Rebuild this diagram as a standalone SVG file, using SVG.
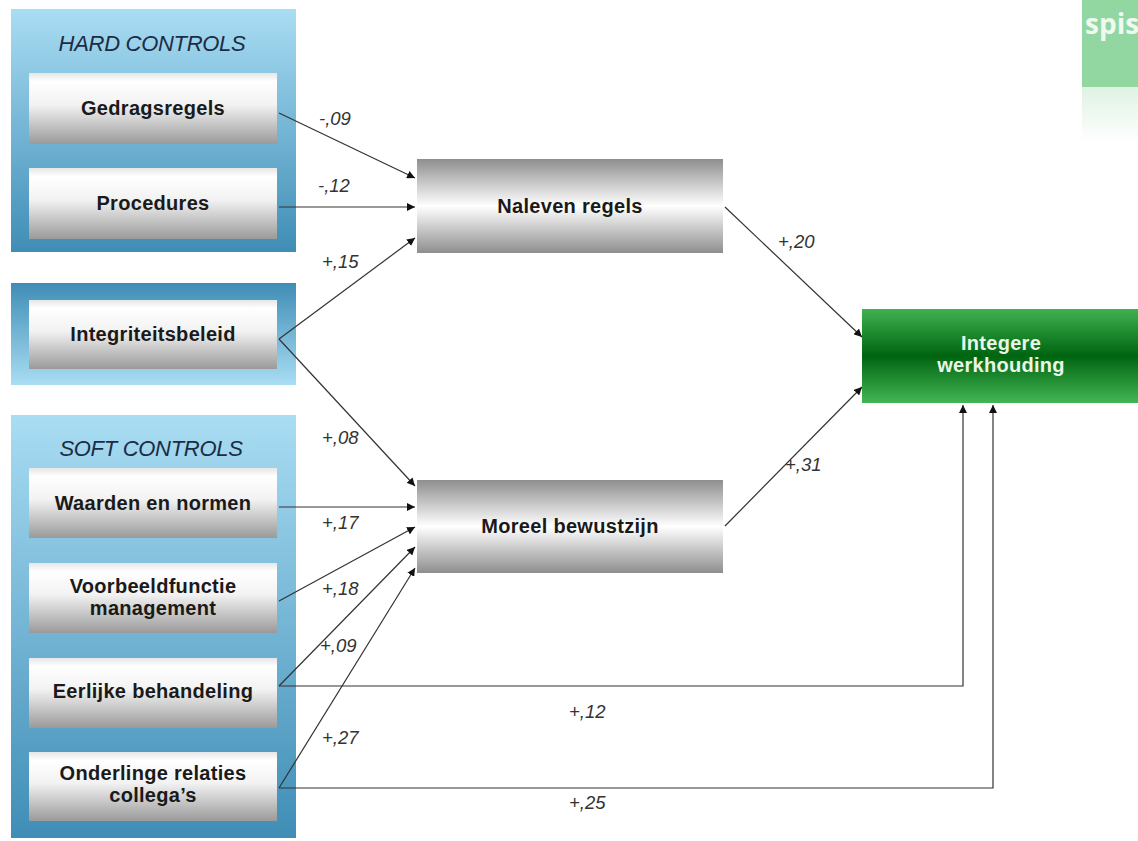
<svg xmlns="http://www.w3.org/2000/svg" width="1138" height="841" viewBox="0 0 1138 841">
<defs>
<linearGradient id="panelDown" x1="0" y1="0" x2="0" y2="1">
<stop offset="0" stop-color="#a9ddf3"/><stop offset="1" stop-color="#3f8db6"/>
</linearGradient>
<linearGradient id="panelUp" x1="0" y1="0" x2="0" y2="1">
<stop offset="0" stop-color="#3f8db6"/><stop offset="1" stop-color="#a9ddf3"/>
</linearGradient>
<linearGradient id="boxG" x1="0" y1="0" x2="0" y2="1">
<stop offset="0" stop-color="#e6e6e6"/><stop offset="0.12" stop-color="#ffffff"/><stop offset="0.45" stop-color="#f2f2f2"/><stop offset="1" stop-color="#9a9a9a"/>
</linearGradient>
<linearGradient id="midG" x1="0" y1="0" x2="0" y2="1">
<stop offset="0" stop-color="#8e8e8e"/><stop offset="0.5" stop-color="#ffffff"/><stop offset="1" stop-color="#8e8e8e"/>
</linearGradient>
<linearGradient id="greenG" x1="0" y1="0" x2="0" y2="1">
<stop offset="0" stop-color="#3fb24f"/><stop offset="0.5" stop-color="#006410"/><stop offset="1" stop-color="#44b655"/>
</linearGradient>
<linearGradient id="fadeG" x1="0" y1="0" x2="0" y2="1">
<stop offset="0" stop-color="#dff2e3"/><stop offset="1" stop-color="#ffffff"/>
</linearGradient>
<marker id="arr" viewBox="0 0 10 10" refX="10" refY="5" markerWidth="8" markerHeight="8" markerUnits="userSpaceOnUse" orient="auto">
<path d="M0,0 L10,5 L0,10 z" fill="#111"/>
</marker>
<style>
.lbl{font-family:"Liberation Sans",Arial,sans-serif;font-weight:bold;font-size:20px;fill:#1a1a1a;text-anchor:middle;letter-spacing:0.3px}
.title{font-family:"Liberation Sans",Arial,sans-serif;font-style:italic;font-size:22px;fill:#1c2c44;text-anchor:middle;letter-spacing:-0.3px}
.coef{font-family:"Liberation Sans",Arial,sans-serif;font-style:italic;font-size:18.5px;fill:#333}
.con{fill:none;stroke:#333;stroke-width:1.2;marker-end:url(#arr)}
.box{fill:url(#boxG)}
</style>
</defs>
<rect width="1138" height="841" fill="#ffffff"/>

<g id="corner">
<rect x="1082" y="0" width="56" height="87" fill="#92d6a2"/>
<rect x="1082" y="87" width="56" height="55" fill="url(#fadeG)"/>
<text x="1085" y="34" font-family="'Open Sans','Liberation Sans',sans-serif" font-weight="bold" font-size="28" fill="#effaf0">spis</text>
</g>

<g id="panel-hard">
<rect x="11" y="9" width="285" height="243" fill="url(#panelDown)"/>
<text class="title" x="152" y="51">HARD CONTROLS</text>
</g>
<g id="panel-integriteit">
<rect x="11" y="283" width="285" height="102" fill="url(#panelUp)"/>
</g>
<g id="panel-soft">
<rect x="11" y="415" width="285" height="423" fill="url(#panelDown)"/>
<text class="title" x="151" y="456">SOFT CONTROLS</text>
</g>

<g id="connectors">
<line class="con" x1="279" y1="113" x2="415" y2="178"/>
<line class="con" x1="279" y1="207" x2="415" y2="207"/>
<line class="con" x1="279" y1="339" x2="415" y2="238"/>
<line class="con" x1="279" y1="339" x2="415" y2="486"/>
<line class="con" x1="279" y1="507" x2="415" y2="507"/>
<line class="con" x1="279" y1="601" x2="415" y2="527"/>
<line class="con" x1="279" y1="686" x2="415" y2="547"/>
<line class="con" x1="279" y1="788" x2="415" y2="568"/>
<line class="con" x1="725" y1="207" x2="862" y2="337"/>
<line class="con" x1="725" y1="526" x2="862" y2="387"/>
<polyline class="con" points="279,686 963,686 963,405"/>
<polyline class="con" points="279,788 993,788 993,405"/>
<text class="coef" x="319" y="125">-,09</text>
<text class="coef" x="318" y="192">-,12</text>
<text class="coef" x="322" y="268">+,15</text>
<text class="coef" x="322" y="444">+,08</text>
<text class="coef" x="322" y="529">+,17</text>
<text class="coef" x="322" y="595">+,18</text>
<text class="coef" x="320" y="652">+,09</text>
<text class="coef" x="322" y="744">+,27</text>
<text class="coef" x="569" y="718">+,12</text>
<text class="coef" x="569" y="809">+,25</text>
<text class="coef" x="778" y="248">+,20</text>
<text class="coef" x="785" y="471">+,31</text>
</g>

<g id="gedragsregels">
<rect class="box" x="29" y="73" width="248" height="71"/>
<text class="lbl" x="153" y="115">Gedragsregels</text>
</g>
<g id="procedures">
<rect class="box" x="29" y="168" width="248" height="71"/>
<text class="lbl" x="153" y="210">Procedures</text>
</g>
<g id="integriteitsbeleid">
<rect class="box" x="29" y="300" width="248" height="69"/>
<text class="lbl" x="153" y="341">Integriteitsbeleid</text>
</g>
<g id="waarden">
<rect class="box" x="29" y="468" width="248" height="70"/>
<text class="lbl" x="153" y="510">Waarden en normen</text>
</g>
<g id="voorbeeldfunctie">
<rect class="box" x="29" y="563" width="248" height="70"/>
<text class="lbl" x="153" y="593">Voorbeeldfunctie</text>
<text class="lbl" x="153" y="615">management</text>
</g>
<g id="eerlijke">
<rect class="box" x="29" y="658" width="248" height="70"/>
<text class="lbl" x="153" y="698">Eerlijke behandeling</text>
</g>
<g id="onderlinge">
<rect class="box" x="29" y="752" width="248" height="69"/>
<text class="lbl" x="153" y="780">Onderlinge relaties</text>
<text class="lbl" x="153" y="802">collega’s</text>
</g>

<g id="naleven">
<rect x="417" y="159" width="306" height="94" fill="url(#midG)"/>
<text class="lbl" x="570" y="213">Naleven regels</text>
</g>
<g id="moreel">
<rect x="417" y="480" width="306" height="93" fill="url(#midG)"/>
<text class="lbl" x="570" y="533">Moreel bewustzijn</text>
</g>
<g id="integere">
<rect x="862" y="309" width="276" height="94" fill="url(#greenG)"/>
<text class="lbl" x="1001" y="350" style="fill:#eaf6e6">Integere</text>
<text class="lbl" x="1001" y="372" style="fill:#eaf6e6">werkhouding</text>
</g>
</svg>
